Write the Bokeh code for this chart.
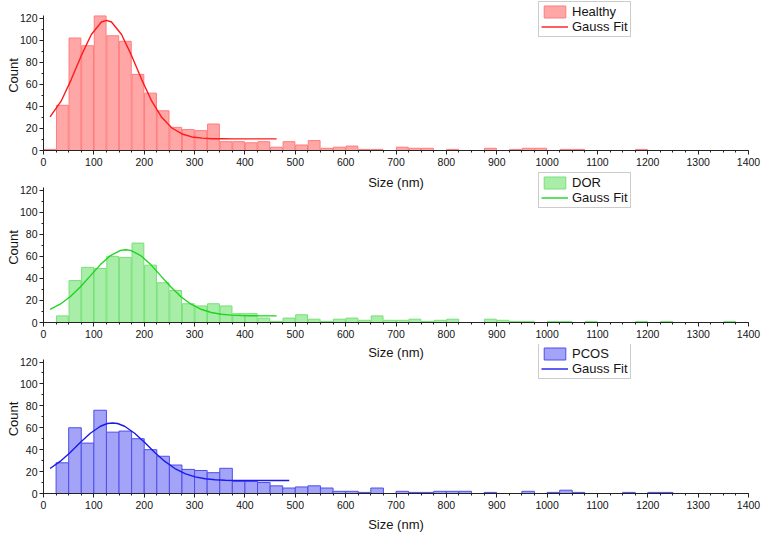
import numpy as np
from bokeh.plotting import figure
from bokeh.layouts import column
from bokeh.models import Range1d, SingleIntervalTicker, Label
from bokeh.embed import file_html
from bokeh.resources import INLINE

# ---------------- data ----------------
bin_width = 25
bin_starts = list(range(0, 1400, bin_width))  # 56 bins, 0..1375

healthy_counts = [1, 41, 102, 95, 122, 104, 99, 69, 52, 36, 21, 19, 18, 24, 8, 8,
                  7, 8, 3, 8, 5, 9, 2, 3, 4, 1, 1, 0, 3, 2, 2, 0, 1, 0, 0, 2,
                  0, 1, 2, 2, 0, 1, 1, 0, 0, 0, 0, 1, 0, 0, 0, 0, 0, 0, 0, 0]
dor_counts = [0, 6, 38, 50, 49, 60, 59, 72, 52, 36, 29, 17, 15, 17, 15, 8,
              8, 4, 1, 4, 7, 3, 1, 3, 4, 2, 6, 2, 2, 3, 1, 2, 3, 0, 0, 3,
              2, 1, 1, 0, 1, 1, 0, 1, 0, 0, 0, 1, 0, 1, 0, 0, 0, 0, 1, 0]
pcos_counts = [0, 28, 60, 46, 76, 56, 57, 50, 40, 34, 26, 22, 21, 19, 23, 11,
               11, 10, 7, 5, 6, 7, 5, 2, 2, 1, 5, 0, 2, 1, 1, 2, 2, 2, 0, 1,
               0, 0, 2, 0, 1, 3, 1, 0, 0, 0, 1, 0, 1, 1, 0, 0, 0, 0, 0, 0]

healthy_fit_x = [13, 35, 55, 75, 95, 115, 125, 135, 155, 175, 195, 215, 235, 255,
                 275, 295, 315, 335, 355, 375, 415, 463]
healthy_fit_y = [30.5, 44.7, 64.3, 86.0, 105.2, 116.5, 118.0, 116.5, 105.2, 86.0,
                 64.3, 44.7, 29.9, 20.4, 15.0, 12.3, 11.2, 10.7, 10.6, 10.5, 10.5, 10.5]

dor_fit_x = [13, 33, 53, 73, 93, 113, 133, 153, 163, 173, 193, 213, 233, 253,
             273, 293, 313, 333, 353, 373, 393, 413, 433, 463]
dor_fit_y = [12.0, 16.6, 23.4, 32.2, 42.3, 52.5, 60.7, 65.4, 66.0, 65.4, 60.7,
             52.5, 42.3, 32.2, 23.4, 16.6, 12.0, 9.1, 7.5, 6.7, 6.3, 6.1, 6.0, 6.0]

pcos_fit_x = [13, 33, 53, 73, 93, 113, 127, 137, 147, 161, 181, 201, 221, 241,
              261, 281, 301, 321, 341, 361, 381, 421, 488]
pcos_fit_y = [22.8, 29.3, 37.5, 46.5, 55.0, 61.4, 63.9, 64.4, 63.9, 61.4, 55.0,
              46.5, 37.5, 29.3, 22.8, 18.2, 15.2, 13.5, 12.6, 12.1, 11.9, 11.8, 11.8]

FONT = "Liberation Sans"
TXT = "#141414"
bin_centers = [s + bin_width / 2 for s in bin_starts]

FRAME_H = 150
Y_TOP = 136.0      # frame top (room for legend), axis drawn only 0..122.5


def make_panel(counts, name, fill, edge, bar_w, fit_x, fit_y, fit_color,
               height, bottom, legend_vy, xlabel=None):
    p = figure(width=762, height=height, output_backend="svg", toolbar_location=None,
               x_range=Range1d(0, 1400), y_range=Range1d(0, Y_TOP),
               min_border_left=43, min_border_right=14,
               min_border_top=0, min_border_bottom=bottom)
    p.outline_line_color = None
    p.xgrid.grid_line_color = None
    p.ygrid.grid_line_color = None
    p.vbar(x=bin_centers, top=counts, width=bar_w, bottom=0,
           fill_color=fill, line_color=edge, line_width=1, legend_label=name)
    p.line(fit_x, fit_y, line_color=fit_color, line_width=1.4, legend_label="Gauss Fit")

    for ax in (p.xaxis[0], p.yaxis[0]):
        ax.axis_line_color = "#222222"
        ax.major_tick_line_color = "#222222"
        ax.minor_tick_line_color = "#222222"
        ax.major_tick_in = 0
        ax.major_tick_out = 4
        ax.minor_tick_in = 0
        ax.minor_tick_out = 2
        ax.major_label_text_font = FONT
        ax.major_label_text_font_size = "10.5px"
        ax.major_label_text_color = TXT
        ax.major_label_standoff = 3
        ax.axis_label_text_font = FONT
        ax.axis_label_text_font_size = "13px"
        ax.axis_label_text_font_style = "normal"
        ax.axis_label_text_color = TXT
    p.xaxis[0].ticker = SingleIntervalTicker(interval=100, num_minor_ticks=4)
    p.yaxis[0].ticker = SingleIntervalTicker(interval=20, num_minor_ticks=2)
    p.yaxis[0].bounds = (0, 122.5)
    p.yaxis[0].axis_label = "Count"
    p.yaxis[0].axis_label_standoff = -4
    p.yaxis[0].major_label_standoff = 2
    if xlabel:
        p.xaxis[0].axis_label = xlabel
        p.xaxis[0].axis_label_standoff = 5

    lg = p.legend[0]
    lg.location = (495, legend_vy)
    lg.label_text_font = FONT
    lg.label_text_font_size = "13px"
    lg.label_text_color = TXT
    lg.glyph_width = 27
    lg.glyph_height = 15
    lg.label_height = 15
    lg.label_standoff = 4
    lg.padding = 2
    lg.spacing = 0
    lg.margin = 0
    lg.border_line_color = "#9a9a9a"
    lg.border_line_width = 1
    lg.background_fill_color = "white"
    lg.background_fill_alpha = 1
    return p


def size_label(y):
    return Label(x=700, y=y, x_units="data", y_units="screen", text="Size (nm)",
                 text_align="center", text_baseline="middle",
                 text_font=FONT, text_font_size="13px", text_color=TXT)


p1 = make_panel(healthy_counts, "Healthy", "#FFA6A6", "#FF7D7D", 23.5,
                healthy_fit_x, healthy_fit_y, "#FF1A1A", 172, 22, 113)
p2 = make_panel(dor_counts, "DOR", "#A8EEA8", "#78E078", 23.5,
                dor_fit_x, dor_fit_y, "#1ED41E", 172, 22, 114)
p3 = make_panel(pcos_counts, "PCOS", "#A3A3F8", "#4F4FEA", 25,
                pcos_fit_x, pcos_fit_y, "#1A1AF0", 190, 40, 114, xlabel="Size (nm)")

p2.add_layout(size_label(FRAME_H - 9.7))
p3.add_layout(size_label(FRAME_H - 9.3))

layout = column(p1, p2, p3, spacing=0)
open("out.html", "w").write(file_html(layout, INLINE))
